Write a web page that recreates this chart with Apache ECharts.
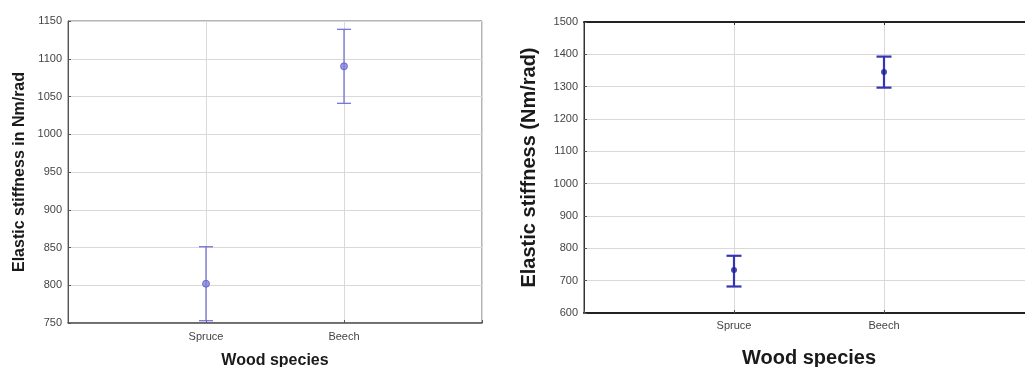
<!DOCTYPE html>
<html>
<head>
<meta charset="utf-8">
<script src="https://cdn.jsdelivr.net/npm/echarts@6/dist/echarts.min.js"></script>
<style>
  html, body { margin: 0; padding: 0; background: #fff; }
  #chart { width: 1025px; height: 367px; }
</style>
</head>
<body>
<div id="chart"></div>
<script>
// Wood species on the x axis
const categories = ['Spruce', 'Beech'];

// Left panel: mean elastic stiffness with lower / upper bounds (Nm/rad)
const leftMean = [802, 1090];
const leftLow = [753, 1041];
const leftHigh = [851, 1139];

// Right panel: mean elastic stiffness with lower / upper bounds (Nm/rad)
const rightMean = [733, 1345];
const rightLow = [682, 1297];
const rightHigh = [777, 1393];

// Y axis tick ranges
const leftTicks = { min: 750, max: 1150, step: 50 };
const rightTicks = { min: 600, max: 1500, step: 100 };

const FONT = 'Liberation Sans, Arial, sans-serif';

// Each species sits at position 1, 2 on a 0..3 axis
const pos = (i) => i + 1;
const catLabel = (v) => categories[v - 1] || '';

function meanPoints(means) {
  return categories.map((c, i) => [pos(i), means[i]]);
}
function boundPoints(lows, highs) {
  return categories.map((c, i) => [pos(i), lows[i], highs[i]]);
}

// Vertical whisker with horizontal caps
function errorBar(capHalf, width, color) {
  return function (params, api) {
    const x = api.value(0);
    const lo = api.coord([x, api.value(1)]);
    const hi = api.coord([x, api.value(2)]);
    const style = { stroke: color, lineWidth: width };
    return {
      type: 'group',
      children: [
        { type: 'line', shape: { x1: lo[0], y1: lo[1], x2: hi[0], y2: hi[1] }, style },
        { type: 'line', shape: { x1: lo[0] - capHalf, y1: lo[1], x2: lo[0] + capHalf, y2: lo[1] }, style },
        { type: 'line', shape: { x1: hi[0] - capHalf, y1: hi[1], x2: hi[0] + capHalf, y2: hi[1] }, style }
      ]
    };
  };
}

function xAxisFor(gridIndex, opts) {
  return {
    type: 'value', gridIndex, min: 0, max: 3, interval: 1,
    name: 'Wood species', nameLocation: 'middle', nameGap: opts.nameGap,
    nameTextStyle: { fontFamily: FONT, fontWeight: 'bold', fontSize: opts.nameSize, color: '#1a1a1a' },
    axisLine: { show: true, onZero: false, lineStyle: { color: opts.lineColor, width: opts.lineWidth } },
    axisTick: { show: true, inside: true, length: 3, lineStyle: { color: '#555' } },
    axisLabel: {
      formatter: catLabel, margin: opts.labelMargin,
      fontFamily: FONT, fontSize: 11, color: '#444',
      showMinLabel: true, showMaxLabel: true
    },
    splitLine: { show: true, lineStyle: { color: '#d9d9d9', width: 1 } }
  };
}

function yAxisFor(gridIndex, ticks, opts) {
  return {
    type: 'value', gridIndex, min: ticks.min, max: ticks.max, interval: ticks.step,
    name: opts.name, nameLocation: 'middle', nameGap: opts.nameGap,
    nameTextStyle: { fontFamily: FONT, fontWeight: 'bold', fontSize: opts.nameSize, color: '#1a1a1a' },
    axisLine: { show: true, lineStyle: { color: opts.lineColor, width: 1 } },
    axisTick: { show: true, inside: true, length: 3, lineStyle: { color: '#555' } },
    axisLabel: { margin: 6, fontFamily: FONT, fontSize: 11, color: '#444', formatter: (v) => String(v) },
    splitLine: { show: true, lineStyle: { color: '#d9d9d9', width: 1 } }
  };
}

const chart = echarts.init(document.getElementById('chart'), null, { renderer: 'canvas' });

chart.setOption({
  animation: false,
  backgroundColor: '#ffffff',
  grid: [
    { left: 68, top: 21, width: 414, height: 302, show: true, borderColor: '#6a6a6a', borderWidth: 1, outerBoundsMode: 'none' },
    { left: 584, top: 22, width: 450, height: 291, show: true, borderColor: '#333', borderWidth: 1, outerBoundsMode: 'none' }
  ],
  xAxis: [
    xAxisFor(0, { nameGap: 30, nameSize: 16, lineColor: '#555', lineWidth: 1.5, labelMargin: 8 }),
    xAxisFor(1, { nameGap: 35, nameSize: 20, lineColor: '#222', lineWidth: 2, labelMargin: 7 }),
    {
      type: 'value', gridIndex: 1, position: 'top', min: 0, max: 3, interval: 1,
      axisLine: { show: true, onZero: false, lineStyle: { color: '#222', width: 2 } },
      axisTick: { show: true, inside: true, length: 3, lineStyle: { color: '#333' } },
      axisLabel: { show: false }, splitLine: { show: false }
    }
  ],
  yAxis: [
    yAxisFor(0, leftTicks, { name: 'Elastic stiffness in Nm/rad', nameGap: 40, nameSize: 16, lineColor: '#555' }),
    yAxisFor(1, rightTicks, { name: 'Elastic stiffness (Nm/rad)', nameGap: 45, nameSize: 20, lineColor: '#333' })
  ],
  series: [
    {
      type: 'custom', xAxisIndex: 0, yAxisIndex: 0,
      renderItem: errorBar(7, 1.2, '#6a6ad4'),
      encode: { x: 0, y: [1, 2] },
      data: boundPoints(leftLow, leftHigh), z: 3
    },
    {
      type: 'scatter', xAxisIndex: 0, yAxisIndex: 0,
      symbol: 'circle', symbolSize: 7,
      itemStyle: { color: '#8080dc', borderColor: '#5a5ac8', borderWidth: 1 },
      data: meanPoints(leftMean), z: 4
    },
    {
      type: 'custom', xAxisIndex: 1, yAxisIndex: 1,
      renderItem: errorBar(7.5, 2.2, '#3434b4'),
      encode: { x: 0, y: [1, 2] },
      data: boundPoints(rightLow, rightHigh), z: 3
    },
    {
      type: 'scatter', xAxisIndex: 1, yAxisIndex: 1,
      symbol: 'circle', symbolSize: 6,
      itemStyle: { color: '#1e1e9a' },
      data: meanPoints(rightMean), z: 4
    }
  ]
});
</script>
</body>
</html>
